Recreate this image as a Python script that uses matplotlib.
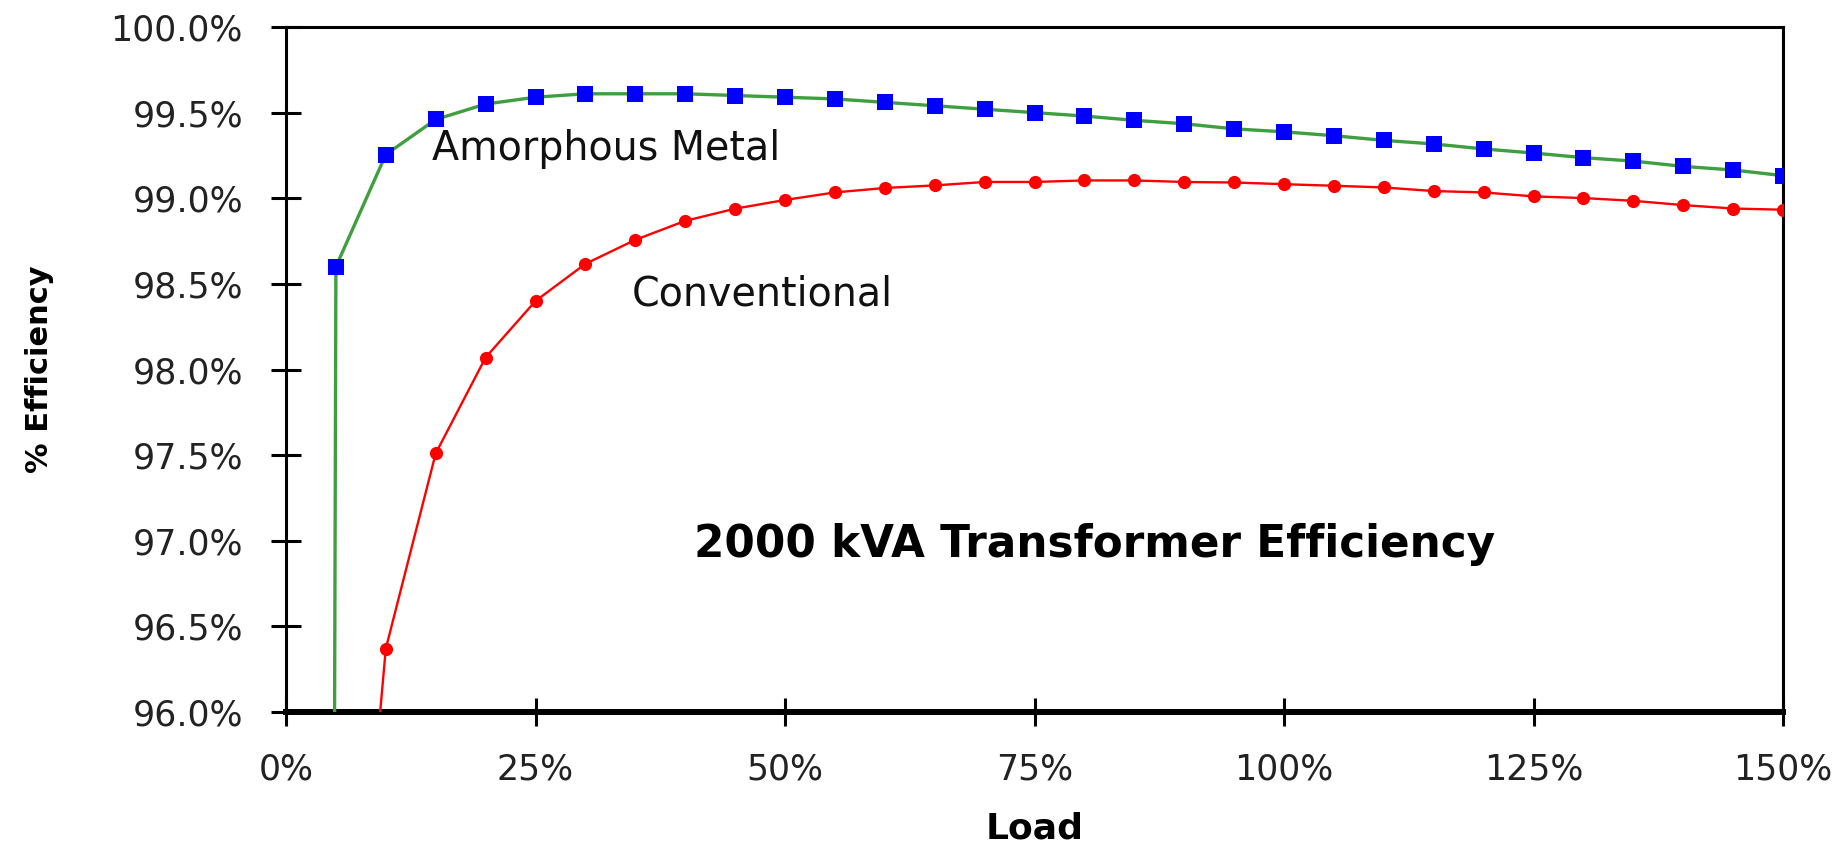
import matplotlib
matplotlib.use("Agg")
import matplotlib.pyplot as plt

# ---- data ----
load_pct = [0, 5, 10, 15, 20, 25, 30, 35, 40, 45, 50, 55, 60, 65, 70, 75,
            80, 85, 90, 95, 100, 105, 110, 115, 120, 125, 130, 135, 140, 145, 150]
amorphous = [0.0, 98.60, 99.255, 99.46, 99.55, 99.59, 99.61, 99.61, 99.61, 99.60,
             99.59, 99.58, 99.56, 99.54, 99.52, 99.50, 99.48, 99.455, 99.435, 99.405,
             99.388, 99.365, 99.338, 99.317, 99.288, 99.264, 99.237, 99.217, 99.186,
             99.165, 99.132]
conventional = [0.0, 93.10, 96.37, 97.51, 98.07, 98.40, 98.617, 98.757, 98.868, 98.939,
                98.99, 99.034, 99.06, 99.075, 99.095, 99.095, 99.104, 99.104, 99.095,
                99.092, 99.082, 99.073, 99.063, 99.042, 99.034, 99.011, 99.001, 98.985,
                98.96, 98.94, 98.933]
x_ticks = [0, 25, 50, 75, 100, 125, 150]
x_tick_labels = ["0%", "25%", "50%", "75%", "100%", "125%", "150%"]
y_ticks = [96.0, 96.5, 97.0, 97.5, 98.0, 98.5, 99.0, 99.5, 100.0]
y_tick_labels = ["96.0%", "96.5%", "97.0%", "97.5%", "98.0%", "98.5%", "99.0%", "99.5%", "100.0%"]
series_names = ["Amorphous Metal", "Conventional"]
chart_title = "2000 kVA Transformer Efficiency"
x_label = "Load"
y_label = "% Efficiency"

plt.rcParams['font.family'] = ['DejaVu Sans']

fig = plt.figure(figsize=(18.45, 8.46), dpi=100)
ax = fig.add_axes([286 / 1845, 1 - 712 / 846, (1783 - 286) / 1845, (712 - 27) / 846])

ax.plot(load_pct, amorphous, color="#3f9f3f", lw=2.4, marker="s", ms=11,
        mfc="#0000ff", mec="#0000ff", mew=0, zorder=3)
ax.plot(load_pct, conventional, color="#ff0000", lw=1.7, marker="o", ms=9.5,
        mfc="#ff0000", mec="#ff0000", mew=0, zorder=3)

ax.set_xlim(0, 150)
ax.set_ylim(96, 100)
ax.set_xticks(x_ticks)
ax.set_xticklabels(x_tick_labels)
ax.set_yticks(y_ticks)
ax.set_yticklabels(y_tick_labels)

for side in ["left", "right", "top"]:
    ax.spines[side].set_linewidth(2.2)
    ax.spines[side].set_color("black")
ax.spines["bottom"].set_linewidth(4.3)
ax.spines["bottom"].set_color("black")

ax.tick_params(axis="y", direction="inout", length=22, width=2.2, pad=20,
               labelsize=25, labelcolor="#222222")
ax.tick_params(axis="x", direction="inout", length=20, width=2.2, pad=19,
               labelsize=25, labelcolor="#222222")

ax.set_xlabel(x_label, fontsize=26, fontweight="bold")
ax.set_ylabel(y_label, fontsize=22, fontweight="bold")
ax.xaxis.set_label_coords(0.5, -0.145)
ax.yaxis.set_label_coords(-0.155, 0.5)

ax.text(14.6, 99.287, series_names[0], fontsize=28.5, ha="left", va="center", color="#111111")
ax.text(34.6, 98.44, series_names[1], fontsize=28.5, ha="left", va="center", color="#111111")
ax.text(81, 96.98, chart_title, fontsize=31.5, fontweight="bold", ha="center", va="center")

fig.savefig("out.png", dpi=100)
